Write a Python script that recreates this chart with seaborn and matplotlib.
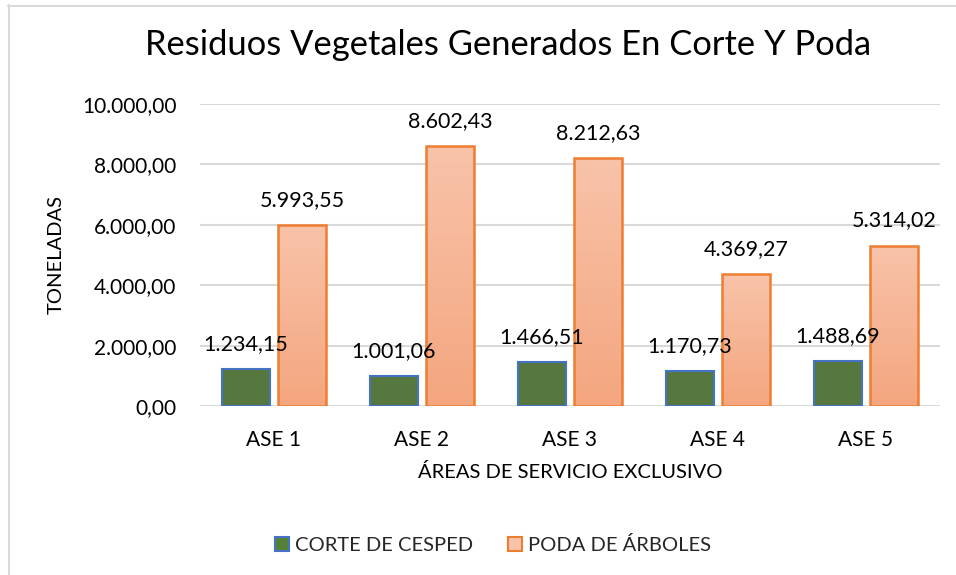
import matplotlib
matplotlib.use("Agg")
import matplotlib.pyplot as plt
import seaborn as sns
import numpy as np
import pandas as pd
from matplotlib.patches import Patch
from matplotlib.lines import Line2D
from matplotlib.colors import LinearSegmentedColormap

categories = ["ASE 1", "ASE 2", "ASE 3", "ASE 4", "ASE 5"]
series_names = ["CORTE DE CESPED", "PODA DE ÁRBOLES"]
corte = [1234.15, 1001.06, 1466.51, 1170.73, 1488.69]
poda = [5993.55, 8602.43, 8212.63, 4369.27, 5314.02]
yticks = [0, 2000, 4000, 6000, 8000, 10000]

df = pd.DataFrame({
    "area": categories * 2,
    "serie": [series_names[0]] * 5 + [series_names[1]] * 5,
    "valor": corte + poda,
})

sns.set_theme(style="white")
plt.rcParams["font.family"] = ["Lato", "DejaVu Sans"]

def fmt(v):
    s = f"{v:,.2f}"
    return s.replace(",", "X").replace(".", ",").replace("X", ".")

fig = plt.figure(figsize=(9.56, 5.75), dpi=100)
ax = fig.add_axes([200/956, 1-406/575, 740/956, 302/575])

green = "#548235"
blue_edge = "#4472C4"
orange_edge = "#ED7D31"
top_col = "#F8C3A9"
bot_col = "#F4A67F"

sns.barplot(data=df, x="area", y="valor", hue="serie", order=categories,
            hue_order=series_names, palette=[green, top_col], width=0.76,
            gap=0.16, ax=ax, legend=False, errorbar=None, zorder=3)

n = len(categories)
patches = ax.patches[:2*n]
cmap = LinearSegmentedColormap.from_list("g", [bot_col, top_col])
grad = np.linspace(0, 1, 256).reshape(-1, 1)
for i, p in enumerate(patches):
    if i < n:
        p.set_edgecolor(blue_edge)
        p.set_linewidth(1.5)
    else:
        p.set_edgecolor(orange_edge)
        p.set_linewidth(1.8)
        x0, y0 = p.get_x(), p.get_y()
        w, h = p.get_width(), p.get_height()
        im = ax.imshow(grad, extent=[x0, x0+w, y0, y0+h], origin="lower",
                       cmap=cmap, aspect="auto", zorder=3.5)
        im.set_clip_path(p)
        p.set_zorder(4)
        p.set_facecolor("none")
    ax.annotate(fmt(p.get_height()), (p.get_x()+p.get_width()/2, p.get_height()),
                xytext=(0, 18), textcoords="offset points", ha="center", va="center",
                fontsize=15.5, color="#000000", zorder=6)

ax.set_xlim(-0.5, n-0.5)
ax.set_ylim(0, 10000)
ax.set_yticks(yticks)
ax.set_yticklabels([fmt(v) for v in yticks], fontsize=15, color="#000000")
ax.tick_params(axis="x", labelsize=15, colors="#000000", length=0, pad=17)
ax.tick_params(axis="y", length=0, pad=17)
ax.yaxis.grid(True, color="#D9D9D9", linewidth=1.5, zorder=0)
ax.set_axisbelow(True)
for s in ax.spines.values():
    s.set_visible(False)
ax.set_xlabel("ÁREAS DE SERVICIO EXCLUSIVO", fontsize=14.5, color="#000000", labelpad=10)
ax.set_ylabel("TONELADAS", fontsize=14.5, color="#000000")
ax.yaxis.set_label_coords(-(200-65)/740, 0.5)

fig.text(508/956, 1-45/575, "Residuos Vegetales Generados En Corte Y Poda",
         ha="center", va="center", fontsize=24.8, color="#000000")

handles = [Patch(facecolor=green, edgecolor=blue_edge, linewidth=1.5),
           Patch(facecolor=top_col, edgecolor=orange_edge, linewidth=1.5)]
fig.legend(handles, series_names, loc="center", bbox_to_anchor=(493/956, 1-545/575),
           ncol=2, frameon=False, fontsize=14.5, handlelength=0.7, handleheight=0.7,
           handletextpad=0.3, columnspacing=1.75)

fig.add_artist(Line2D([8.5/956, 8.5/956], [0, 1-5/575], color="#D9D9D9", linewidth=1.5,
                      transform=fig.transFigure))
fig.add_artist(Line2D([8/956, 1], [1-5.5/575, 1-5.5/575], color="#D9D9D9", linewidth=1.5,
                      transform=fig.transFigure))

fig.savefig("out.png", dpi=100)
